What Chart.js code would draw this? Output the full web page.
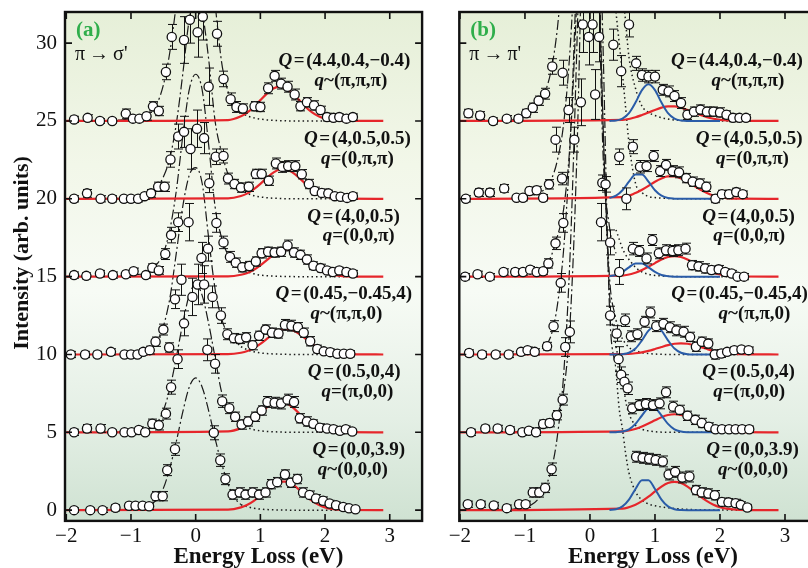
<!DOCTYPE html>
<html>
<head>
<meta charset="utf-8">
<script src="https://cdn.jsdelivr.net/npm/chart.js@4.4.1/dist/chart.umd.min.js"></script>
<style>
html, body { margin: 0; padding: 0; background: #fff; overflow: hidden; }
#wrap { position: relative; width: 808px; height: 568px; overflow: hidden; }
canvas { position: absolute; top: 0; }
#cA { left: 0; }
#cB { left: 430px; }
</style>
</head>
<body>
<div id="wrap">
  <canvas id="cA" width="430" height="568"></canvas>
  <canvas id="cB" width="400" height="568"></canvas>
</div>
<script>
// ---- spectra are stacked with these vertical offsets ----
const offsets = [0, 5, 10, 15, 20, 25];

// label texts, bottom spectrum first
const bigQ = ['(0,0,3.9)', '(0.5,0,4)', '(0.45,\u22120.45,4)', '(4,0,0.5)', '(4,0.5,0.5)', '(4.4,0.4,\u22120.4)'];
const smallQrel = ['~', '=', '~', '=', '=', '~'];
const smallQ = ['(0,0,0)', '(\u03c0,0,0)', '(\u03c0,\u03c0,0)', '(0,0,\u03c0)', '(0,\u03c0,\u03c0)', '(\u03c0,\u03c0,\u03c0)'];
const xTicks = [-2, -1, 0, 1, 2, 3];
const yTicks = [0, 5, 10, 15, 20, 25, 30];

// ---- sample grids of the drawn curves ----
const redGrid = [-2, 0.5, 0.7, 0.8, 0.9, 1.0, 1.1, 1.2, 1.3, 1.4, 1.5, 1.6, 1.7, 1.8, 1.9, 2.0, 2.1, 2.3, 2.9];
const blueGrid = [0.3, 0.4, 0.5, 0.6, 0.7, 0.8, 0.9, 1.0, 1.1, 1.2, 1.3, 1.4, 1.5, 1.7, 2.0];
const elasticGridA = [-1.2, -1.0, -0.8, -0.7, -0.6, -0.5, -0.4, -0.3, -0.2, -0.1, 0, 0.1, 0.2, 0.3, 0.4, 0.5, 0.6, 0.7];
const tailGridA = [0.7, 0.8, 0.9, 1.0, 1.1, 1.3, 1.6, 2.3];
const elasticGridB = [-1.2, -1.0, -0.9, -0.8, -0.7, -0.6, -0.5, -0.4, -0.3, -0.2, -0.1, 0, 0.1, 0.2, 0.3, 0.4];
const tailGridB = [0.4, 0.45, 0.5, 0.55, 0.6, 0.7, 0.8, 0.9, 1.0, 1.2, 1.5, 2.3];

// ---- panel (a) pi -> sigma' data (energy eV, intensity above offset, error) ----
const lossA0 = [-1.88,-1.63,-1.44,-1.24,-1.03,-0.93,-0.82,-0.72,-0.62,-0.51,-0.44,-0.32,0.28,0.38,0.46,0.57,0.68,0.77,0.88,0.98,1.08,1.17,1.26,1.38,1.47,1.57,1.66,1.76,1.86,1.97,2.07,2.17,2.28,2.37,2.47];
const intA0 = [0,0,0,0.15,0.28,0.28,0.28,0.25,0.9,0.9,2.57,3.92,4.97,3.21,1.99,1.0,1.14,1.0,1.14,1.0,1.14,1.67,1.8,2.29,1.76,2.0,1.14,0.98,0.75,0.6,0.43,0.32,0.2,0.12,0.06];
const errA0 = [0.15,0.15,0.15,0.2,0.2,0.2,0.2,0.2,0.3,0.3,0.35,0.4,0.45,0.4,0.35,0.3,0.3,0.3,0.3,0.3,0.3,0.3,0.3,0.3,0.3,0.3,0.3,0.25,0.25,0.25,0.2,0.2,0.2,0.15,0.15];

const lossA5 = [-1.88,-1.68,-1.47,-1.29,-1.1,-0.99,-0.88,-0.78,-0.67,-0.57,-0.46,-0.38,-0.28,0.18,0.3,0.41,0.52,0.61,0.71,0.81,0.92,1.02,1.11,1.22,1.32,1.42,1.52,1.61,1.72,1.82,1.92,2.03,2.13,2.23,2.32,2.42];
const intA5 = [0,0.25,0.25,0,0,0,0.15,0,0.55,0.45,1.2,2.9,4.7,5.3,4.4,2.0,1.55,1.0,0.5,0.7,1.0,1.4,1.95,1.9,1.85,2.1,1.95,0.9,0.7,0.55,0.3,0.25,0.2,0.1,0.2,0.05];
const errA5 = [0.2,0.25,0.25,0.15,0.15,0.15,0.2,0.15,0.3,0.3,0.35,0.45,0.6,0.7,0.6,0.4,0.35,0.3,0.3,0.3,0.3,0.3,0.35,0.35,0.35,0.35,0.35,0.3,0.3,0.25,0.25,0.2,0.2,0.2,0.2,0.15];

const lossA10 = [-1.93,-1.71,-1.52,-1.31,-1.1,-1.0,-0.9,-0.81,-0.71,-0.62,-0.5,-0.41,-0.32,-0.22,-0.18,-0.05,0.03,0.13,0.26,0.39,0.49,0.59,0.68,0.78,0.88,0.98,1.08,1.18,1.28,1.38,1.48,1.58,1.67,1.77,1.88,1.98,2.08,2.19,2.29,2.39];
const intA10 = [0,0,0,0.17,0,0,0,0.17,0.28,0.82,1.6,0.45,3.55,4.8,2.0,3.7,4.5,4.5,3.7,2.5,1.3,1.05,1.0,1.1,0.6,1.2,1.6,1.4,1.35,1.9,1.85,1.75,1.4,0.85,0.35,0.2,0.15,0.05,0.05,0.05];
const errA10 = [0.2,0.2,0.2,0.2,0.2,0.2,0.2,0.2,0.25,0.3,0.35,0.3,0.6,1.0,0.8,1.2,1.3,1.2,0.7,0.5,0.35,0.3,0.3,0.3,0.3,0.3,0.3,0.3,0.3,0.35,0.35,0.3,0.3,0.3,0.25,0.2,0.2,0.2,0.2,0.2];

const lossA15 = [-1.88,-1.69,-1.48,-1.28,-1.08,-0.96,-0.77,-0.67,-0.57,-0.47,-0.38,-0.27,-0.11,0.09,0.19,0.32,0.43,0.53,0.62,0.72,0.83,0.93,1.02,1.12,1.22,1.32,1.42,1.52,1.62,1.72,1.82,1.93,2.03,2.12,2.22,2.33,2.43];
const intA15 = [0.1,0.05,0.2,0.1,0.15,0.35,0.1,0.57,0.4,1.45,2.67,3.5,3.5,1.2,1.8,3.45,2.2,1.27,0.9,0.6,0.68,0.97,1.5,1.6,1.55,1.6,2.0,1.55,1.4,1.1,0.7,0.55,0.4,0.3,0.4,0.3,0.2];
const errA15 = [0.2,0.2,0.2,0.2,0.2,0.2,0.2,0.25,0.25,0.35,0.5,0.6,1.2,1.0,0.8,0.6,0.4,0.35,0.3,0.3,0.3,0.3,0.3,0.3,0.3,0.3,0.35,0.3,0.3,0.3,0.25,0.25,0.2,0.2,0.2,0.2,0.2];

const lossA20 = [-1.88,-1.68,-1.47,-1.29,-1.11,-1.0,-0.89,-0.79,-0.69,-0.58,-0.48,-0.39,-0.27,-0.18,-0.08,0.02,0.13,0.21,0.31,0.43,0.5,0.6,0.7,0.82,0.93,1.02,1.13,1.24,1.34,1.43,1.54,1.64,1.75,1.84,1.95,2.05,2.15,2.24,2.34,2.43];
const intA20 = [0,0.35,0,0,0,0,0,0.17,0.35,0.77,0.77,2.53,4.0,4.3,3.2,4.5,3.9,1.0,2.7,2.75,1.3,0.95,0.72,0.77,1.6,1.6,1.16,2.27,2.05,2.1,2.1,1.58,0.95,0.5,0.38,0.35,0.17,0.13,0.06,0.17];
const errA20 = [0.2,0.25,0.2,0.2,0.2,0.2,0.2,0.2,0.25,0.3,0.3,0.5,0.8,1.0,1.3,1.2,1.0,0.6,0.5,0.45,0.35,0.3,0.3,0.3,0.3,0.3,0.3,0.35,0.35,0.35,0.35,0.3,0.3,0.25,0.25,0.2,0.2,0.2,0.2,0.2];

const lossA25 = [-1.88,-1.67,-1.48,-1.29,-1.08,-0.97,-0.87,-0.76,-0.66,-0.57,-0.46,-0.37,-0.18,-0.09,0.03,0.11,0.2,0.33,0.43,0.54,0.63,0.73,0.91,1.0,1.12,1.22,1.32,1.42,1.53,1.62,1.72,1.83,1.93,2.03,2.13,2.22,2.33,2.43];
const intA25 = [0.1,0.2,0,0,0.47,0.15,0.15,0.3,0.94,0.64,3.15,5.4,5.2,6.5,5.7,6.7,2.2,5.6,2.7,1.4,0.9,0.8,0.95,0.9,2.1,2.9,2.4,2.2,1.7,0.95,1.2,1.0,0.7,0.25,0.2,0.25,0.15,0.25];
const errA25 = [0.2,0.2,0.15,0.15,0.3,0.2,0.2,0.25,0.3,0.3,0.5,0.8,1.5,1.5,1.6,1.5,1.2,0.8,0.5,0.4,0.35,0.3,0.3,0.3,0.35,0.35,0.35,0.35,0.35,0.3,0.3,0.3,0.25,0.25,0.2,0.2,0.2,0.2];

// panel (a) fitted curves
const redA0 = [0,0.03,0.18,0.35,0.6,0.94,1.32,1.64,1.83,1.83,1.64,1.32,0.94,0.6,0.35,0.18,0.08,0.01,0];
const redA5 = [0,0.06,0.27,0.5,0.82,1.21,1.6,1.89,2.0,1.89,1.6,1.21,0.82,0.5,0.27,0.13,0.06,0.01,0];
const redA10 = [0,0.02,0.11,0.22,0.41,0.68,1.0,1.32,1.56,1.65,1.56,1.32,1.0,0.68,0.41,0.22,0.11,0.02,0];
const redA15 = [0,0.02,0.12,0.24,0.44,0.72,1.06,1.4,1.66,1.75,1.66,1.4,1.06,0.72,0.44,0.24,0.12,0.02,0];
const redA20 = [0,0.03,0.18,0.35,0.62,0.96,1.34,1.68,1.87,1.87,1.68,1.34,0.96,0.62,0.35,0.18,0.08,0.01,0];
const redA25 = [0,0.06,0.3,0.55,0.9,1.34,1.76,2.08,2.2,2.08,1.76,1.34,0.9,0.55,0.3,0.15,0.06,0.01,0];

const elasticA0 = [0,0.05,0.15,0.35,0.7,1.4,2.7,4.4,6.3,7.9,8.5,7.9,6.4,4.6,3.0,1.7,0.8,0.35];
const elasticA5 = [0,0.05,0.1,0.3,0.6,1.4,2.8,4.8,7,8.8,9.5,8.8,7,4.8,2.6,1.5,0.9,0.5];
const elasticA10 = [0,0.05,0.15,0.3,0.8,1.8,3.6,6.5,9.5,11.5,12,11,7.5,4.2,2.3,1.3,0.9,0.5];
const elasticA15 = [0,0.1,0.2,0.4,0.8,1.5,3.0,5.5,9,12,13,12,8.5,4.5,2.5,1.4,0.9,0.55];
const elasticA20 = [0,0.05,0.2,0.35,0.7,1.4,2.6,4.8,8,11.5,13,12,9,5,3.0,1.6,0.95,0.6];
const elasticA25 = [0.05,0.15,0.35,0.6,1.1,2.3,4.4,7.5,11,13.5,14,13.5,11,7.5,3.8,1.9,1.0,0.55];

const tailA0 = [0.35,0.22,0.12,0.07,0.04,0.01,0,0];
const tailA5 = [0.5,0.3,0.17,0.1,0.06,0.02,0,0];
const tailA10 = [0.5,0.3,0.17,0.1,0.06,0.02,0,0];
const tailA15 = [0.55,0.32,0.18,0.1,0.06,0.02,0,0];
const tailA20 = [0.6,0.35,0.2,0.12,0.07,0.02,0,0];
const tailA25 = [0.55,0.32,0.2,0.12,0.07,0.02,0,0];

// ---- panel (b) pi -> pi' data ----
const lossB0 = [-1.88,-1.68,-1.48,-1.28,-1.09,-0.99,-0.88,-0.78,-0.69,-0.59,0.71,0.81,0.91,1.01,1.12,1.21,1.31,1.42,1.53,1.63,1.72,1.82,1.92,2.03,2.13,2.24,2.32,2.42];
const intB0 = [0.38,0.38,0.3,0.13,0.38,0.38,1.14,1.14,1.43,2.63,3.43,3.36,3.3,3.23,3.13,2.29,2.46,2.1,2.16,1.29,1.14,1.07,0.96,0.53,0.5,0.45,0.34,0.17];
const errB0 = [0.2,0.2,0.2,0.2,0.2,0.2,0.3,0.3,0.3,0.4,0.35,0.35,0.35,0.35,0.35,0.35,0.35,0.35,0.35,0.3,0.3,0.3,0.3,0.25,0.25,0.25,0.2,0.2];

const lossB5 = [-1.83,-1.61,-1.42,-1.23,-1.04,-0.94,-0.83,-0.72,-0.62,-0.51,-0.42,0.48,0.53,0.58,0.65,0.76,0.86,0.97,1.07,1.17,1.28,1.38,1.5,1.62,1.72,1.83,1.93,2.03,2.14,2.24,2.34,2.45];
const intB5 = [0,0.25,0.25,0.15,0,0.1,0,0.54,0.6,1.1,2.1,3.7,3.25,2.83,1.54,1.75,1.82,1.75,1.86,2.57,1.65,1.44,1.06,0.8,0.6,0.36,0.2,0.2,0.2,0.2,0.2,0.2];
const errB5 = [0.2,0.2,0.2,0.2,0.2,0.2,0.2,0.25,0.25,0.3,0.35,0.5,0.45,0.4,0.35,0.35,0.35,0.35,0.35,0.35,0.35,0.3,0.3,0.3,0.3,0.25,0.2,0.2,0.2,0.2,0.2,0.2];

const lossB10 = [-1.86,-1.66,-1.45,-1.25,-1.06,-0.96,-0.85,-0.66,-0.56,-0.38,-0.31,0.31,0.41,0.44,0.54,0.63,0.73,0.84,0.93,1.02,1.13,1.23,1.33,1.44,1.54,1.63,1.72,1.82,1.92,2.02,2.11,2.22,2.33,2.44];
const intB10 = [0.1,0,0,0,0.17,0.28,0.17,0.53,1.82,0.48,1.45,2.5,1.35,-0.3,2.2,1.17,1.3,2.1,2.7,1.82,1.97,1.75,1.55,1.46,1.13,0.5,0.82,0.7,0,0.06,0.17,0.28,0.32,0.28];
const errB10 = [0.2,0.2,0.2,0.2,0.2,0.2,0.2,0.25,0.35,0.6,0.7,0.6,0.5,0.8,0.4,0.35,0.35,0.35,0.35,0.35,0.35,0.35,0.35,0.35,0.3,0.3,0.3,0.3,0.3,0.25,0.2,0.2,0.2,0.2];

const lossB15 = [-1.92,-1.73,-1.54,-1.33,-1.15,-1.03,-0.92,-0.82,-0.72,-0.64,-0.53,-0.45,-0.41,0.17,0.31,0.45,0.66,0.76,0.87,0.96,1.06,1.17,1.27,1.36,1.47,1.57,1.67,1.77,1.87,1.98,2.08,2.18,2.27,2.37];
const intB15 = [0,0.15,0,0.3,0.3,0.3,0.45,0.3,0.35,0.85,2.14,-0.4,3.45,3.5,2.2,0.3,1.8,1.65,1.17,2.35,1.5,1.7,1.65,1.7,1.8,0.74,0.66,0.53,0.43,0.47,0.3,0.2,0,0];
const errB15 = [0.2,0.2,0.2,0.2,0.2,0.2,0.2,0.2,0.2,0.3,0.4,0.6,0.6,1.2,0.8,0.8,0.4,0.35,0.35,0.35,0.35,0.35,0.35,0.35,0.35,0.3,0.3,0.3,0.25,0.25,0.2,0.2,0.2,0.2];

const lossB20 = [-1.91,-1.71,-1.54,-1.32,-1.13,-1.03,-0.93,-0.82,-0.72,-0.63,-0.53,-0.43,-0.24,0.19,0.24,0.45,0.56,0.66,0.77,0.87,0.98,1.08,1.17,1.27,1.37,1.48,1.58,1.69,1.79,1.93,2.03,2.14,2.25,2.35];
const intB20 = [0,0.4,0.4,0.67,0.07,0.07,0.5,0.55,0.07,0.93,3.8,1.3,3.8,1.03,0.93,2.7,0,3.35,2.06,2.1,2.75,1.78,2.18,1.78,1.7,1.33,1.1,0.98,0.77,0,0.3,0.3,0.43,0.3];
const errB20 = [0.2,0.25,0.25,0.25,0.2,0.2,0.25,0.25,0.2,0.3,0.8,0.4,0.8,0.5,0.5,0.5,0.7,0.45,0.4,0.35,0.35,0.35,0.35,0.35,0.35,0.3,0.3,0.3,0.3,0.25,0.25,0.25,0.25,0.2];

const lossB25 = [-1.87,-1.69,-1.49,-1.28,-1.1,-0.98,-0.88,-0.79,-0.69,-0.58,-0.42,-0.33,-0.14,-0.11,-0.02,0.04,0.08,0.14,0.36,0.48,0.6,0.71,0.8,0.9,1.0,1.12,1.21,1.3,1.4,1.5,1.6,1.7,1.8,1.9,2.0,2.1,2.2,2.3,2.4];
const intB25 = [0.5,0.35,0,0.15,0.15,0.5,0.85,1.3,1.75,3.5,3.1,0.7,1.2,6.2,5.4,6.2,1.7,5.4,4.9,3.2,6.2,3.7,2.95,2.85,2.85,2.0,1.9,1.6,1.15,0.4,0.6,0.73,0.6,0.6,0.55,0.4,0.2,0.2,0.2];
const errB25 = [0.25,0.25,0.2,0.2,0.2,0.25,0.3,0.3,0.35,0.5,0.8,0.8,1.5,1.8,1.8,1.8,1.6,1.6,1.0,1.0,0.8,0.45,0.4,0.4,0.4,0.35,0.35,0.35,0.35,0.3,0.3,0.3,0.3,0.3,0.3,0.25,0.25,0.2,0.2];

// panel (b) fitted curves
const redB0 = [0,0.1,0.35,0.58,0.87,1.2,1.51,1.74,1.82,1.74,1.51,1.2,0.87,0.58,0.35,0.19,0.1,0.02,0];
const redB5 = [0,0.06,0.22,0.37,0.56,0.77,0.97,1.11,1.16,1.11,0.97,0.77,0.56,0.37,0.22,0.12,0.06,0.01,0];
const redB10 = [0,0.02,0.08,0.14,0.23,0.35,0.48,0.6,0.69,0.72,0.69,0.6,0.48,0.35,0.23,0.14,0.08,0.02,0];
const redB15 = [0,0.07,0.25,0.42,0.63,0.87,1.1,1.26,1.32,1.26,1.1,0.87,0.63,0.42,0.25,0.14,0.07,0.01,0];
const redB20 = [0,0.11,0.37,0.58,0.83,1.1,1.31,1.44,1.44,1.31,1.1,0.83,0.58,0.37,0.21,0.11,0.05,0.01,0];
const redB25 = [0,0.07,0.24,0.38,0.54,0.71,0.86,0.94,0.94,0.86,0.71,0.54,0.38,0.24,0.14,0.07,0.03,0.01,0];

const blueB0 = [0.01,0.06,0.24,0.68,1.36,1.92,1.92,1.36,0.68,0.24,0.06,0.01,0,0,0];
const blueB5 = [0,0.01,0.05,0.19,0.54,1.08,1.53,1.53,1.08,0.54,0.19,0.05,0.01,0,0];
const blueB10 = [0,0,0.02,0.11,0.38,0.91,1.53,1.82,1.53,0.91,0.38,0.11,0.02,0,0];
const blueB15 = [0.03,0.11,0.3,0.6,0.85,0.85,0.6,0.3,0.11,0.03,0,0,0,0,0];
const blueB20 = [0.05,0.2,0.55,1.1,1.56,1.56,1.1,0.55,0.2,0.05,0.01,0,0,0,0];
const blueB25 = [0,0.03,0.15,0.5,1.18,1.98,2.36,1.98,1.18,0.5,0.15,0.03,0,0,0];

const elasticB0 = [0.05,0.2,0.35,0.7,1.4,2.5,4.8,9,17,30,45,50,45,30,13,9];
const elasticB5 = [0,0.1,0.15,0.3,0.5,0.75,1.2,2.8,7.5,18,35,45,35,20,9,5.5];
const elasticB10 = [0,0.1,0.15,0.25,0.5,1.2,3.2,7,14,25,35,40,32,15,5,2.2];
const elasticB15 = [0,0.2,0.3,0.4,0.6,1.3,2.6,4.5,9,18,28,32,25,8,3.2,1.5];
const elasticB20 = [0,0.2,0.3,0.4,0.6,1.2,2.5,5,10,18,26,30,26,20,15,12];
const elasticB25 = [0.05,0.45,0.8,1.25,1.8,3.2,6,11,18,26,32,35,32,24,16,11];

const tailB0 = [9,6.5,5.2,3.6,2.4,1.2,0.65,0.4,0.28,0.15,0.05,0];
const tailB5 = [5.5,4.5,3.5,2.0,1.2,0.45,0.2,0.09,0.04,0,0,0];
const tailB10 = [2.2,1.6,1.0,0.7,0.45,0.25,0.12,0.06,0.03,0,0,0];
const tailB15 = [3,2.4,1.8,1.4,1.1,0.6,0.3,0.15,0.08,0.02,0,0];
const tailB20 = [12,10,8,5.8,3.6,1.0,0.4,0.15,0.08,0.02,0,0];
const tailB25 = [11,10,8.5,6.3,4.1,2.1,0.95,0.55,0.35,0.12,0.02,0];

// ---- tables built from the arrays above ----
const panelA = [
  { loss: lossA0, int: intA0, err: errA0, red: redA0, elastic: elasticA0, tail: tailA0 },
  { loss: lossA5, int: intA5, err: errA5, red: redA5, elastic: elasticA5, tail: tailA5 },
  { loss: lossA10, int: intA10, err: errA10, red: redA10, elastic: elasticA10, tail: tailA10 },
  { loss: lossA15, int: intA15, err: errA15, red: redA15, elastic: elasticA15, tail: tailA15 },
  { loss: lossA20, int: intA20, err: errA20, red: redA20, elastic: elasticA20, tail: tailA20 },
  { loss: lossA25, int: intA25, err: errA25, red: redA25, elastic: elasticA25, tail: tailA25 }
];
const panelB = [
  { loss: lossB0, int: intB0, err: errB0, red: redB0, blue: blueB0, elastic: elasticB0, tail: tailB0 },
  { loss: lossB5, int: intB5, err: errB5, red: redB5, blue: blueB5, elastic: elasticB5, tail: tailB5 },
  { loss: lossB10, int: intB10, err: errB10, red: redB10, blue: blueB10, elastic: elasticB10, tail: tailB10 },
  { loss: lossB15, int: intB15, err: errB15, red: redB15, blue: blueB15, elastic: elasticB15, tail: tailB15 },
  { loss: lossB20, int: intB20, err: errB20, red: redB20, blue: blueB20, elastic: elasticB20, tail: tailB20 },
  { loss: lossB25, int: intB25, err: errB25, red: redB25, blue: blueB25, elastic: elasticB25, tail: tailB25 }
];

// label placement (energy of text centre) per spectrum, bottom first
const labelXA = { big: [2.52, 2.45, 2.29, 2.44, 2.5, 2.3], small: [2.43, 2.5, 2.33, 2.52, 2.5, 2.4] };
const labelXB = { big: [2.5, 2.44, 2.3, 2.44, 2.45, 2.26], small: [2.51, 2.45, 2.53, 2.45, 2.5, 2.43] };

const SERIF = '"Liberation Serif", "DejaVu Serif", serif';
const RED = '#e6262b';
const BLUE = '#2a5ca8';
const GREEN = '#2fae4b';

function curve(grid, vals, off) {
  return vals.map((v, i) => ({ x: grid[i], y: v + off }));
}

function minusFmt(v) {
  return v < 0 ? '\u2212' + Math.abs(v) : String(v);
}

function drawMixed(ctx, parts, cx, cy, size) {
  let w = 0;
  parts.forEach(p => {
    ctx.font = (p[1] ? 'italic ' : '') + 'bold ' + size + 'px ' + SERIF;
    w += ctx.measureText(p[0]).width;
  });
  let x = cx - w / 2;
  parts.forEach(p => {
    ctx.font = (p[1] ? 'italic ' : '') + 'bold ' + size + 'px ' + SERIF;
    ctx.fillText(p[0], x, cy);
    x += ctx.measureText(p[0]).width;
  });
}

// background, error bars, frame, inward ticks and texts
const decor = {
  id: 'decor',
  beforeDraw(chart) {
    const { ctx, chartArea: a } = chart;
    const g = ctx.createLinearGradient(0, a.top, 0, a.bottom);
    g.addColorStop(0, '#e6efd8');
    g.addColorStop(0.3, '#f2f7e9');
    g.addColorStop(0.55, '#f7fbf5');
    g.addColorStop(0.8, '#e4efe5');
    g.addColorStop(1, '#cfe2d2');
    ctx.save();
    ctx.fillStyle = g;
    ctx.fillRect(a.left, a.top, a.right - a.left, a.bottom - a.top);
    ctx.restore();
  },
  beforeDatasetDraw(chart, args) {
    const ds = chart.data.datasets[args.index];
    if (!ds.err) return;
    const { ctx, chartArea: a } = chart;
    const xs = chart.scales.x, ys = chart.scales.y;
    ctx.save();
    ctx.beginPath();
    ctx.rect(a.left, a.top, a.right - a.left, a.bottom - a.top);
    ctx.clip();
    ctx.strokeStyle = '#111';
    ctx.lineWidth = 1;
    ds.data.forEach((p, i) => {
      const e = ds.err[i];
      const px = Math.round(xs.getPixelForValue(p.x)) + 0.5;
      const y1 = ys.getPixelForValue(p.y + e);
      const y2 = ys.getPixelForValue(p.y - e);
      ctx.beginPath();
      ctx.moveTo(px, y1); ctx.lineTo(px, y2);
      ctx.moveTo(px - 4.5, y1); ctx.lineTo(px + 4.5, y1);
      ctx.moveTo(px - 4.5, y2); ctx.lineTo(px + 4.5, y2);
      ctx.stroke();
    });
    ctx.restore();
  },
  afterDraw(chart) {
    const { ctx, chartArea: a } = chart;
    const xs = chart.scales.x, ys = chart.scales.y;
    const o = chart.options.plugins.decor;
    ctx.save();
    // inward ticks
    ctx.strokeStyle = '#111';
    ctx.lineWidth = 1.6;
    ctx.beginPath();
    xTicks.forEach(v => {
      const px = xs.getPixelForValue(v);
      ctx.moveTo(px, a.bottom); ctx.lineTo(px, a.bottom - 7);
      ctx.moveTo(px, a.top); ctx.lineTo(px, a.top + 7);
    });
    yTicks.forEach(v => {
      const py = ys.getPixelForValue(v);
      ctx.moveTo(a.left, py); ctx.lineTo(a.left + 7, py);
      ctx.moveTo(a.right, py); ctx.lineTo(a.right - 7, py);
    });
    ctx.stroke();
    // frame
    ctx.lineWidth = 2.4;
    ctx.strokeRect(a.left, a.top, a.right - a.left, a.bottom - a.top);

    // tick labels
    ctx.fillStyle = '#111';
    ctx.font = '21px ' + SERIF;
    ctx.textBaseline = 'middle';
    ctx.textAlign = 'center';
    xTicks.forEach(v => ctx.fillText(minusFmt(v), xs.getPixelForValue(v), a.bottom + 16));
    if (o.yLabels) {
      ctx.textAlign = 'right';
      yTicks.forEach(v => ctx.fillText(String(v), a.left - 8, ys.getPixelForValue(v)));
    }

    // panel letter and polarisation channel
    ctx.textAlign = 'left';
    ctx.fillStyle = GREEN;
    ctx.font = 'bold 21px ' + SERIF;
    ctx.fillText(o.letter, a.left + 11, 31);
    ctx.fillStyle = '#111';
    ctx.font = '20px ' + SERIF;
    ctx.fillText(o.channel, a.left + 10, 55);

    // Q / q labels
    offsets.forEach((off, k) => {
      drawMixed(ctx, [['Q', true], ['\u200a=\u200a' + bigQ[k], false]],
        xs.getPixelForValue(o.labelX.big[k]), ys.getPixelForValue(off + 3.85), 19);
      drawMixed(ctx, [['q', true], [smallQrel[k] + smallQ[k], false]],
        xs.getPixelForValue(o.labelX.small[k]), ys.getPixelForValue(off + 2.58), 19);
    });

    // axis titles
    ctx.textAlign = 'center';
    ctx.textBaseline = 'alphabetic';
    ctx.font = 'bold 23px ' + SERIF;
    ctx.fillText('Energy Loss (eV)', xs.getPixelForValue(0.97), 563);
    if (o.yTitle) {
      ctx.translate(22, 253);
      ctx.rotate(-Math.PI / 2);
      ctx.textBaseline = 'middle';
      ctx.font = 'bold 22px ' + SERIF;
      ctx.fillText('Intensity (arb. units)', 0, 0);
    }
    ctx.restore();
  }
};

function buildDatasets(panel, elasticGrid, tailGrid) {
  const sets = [];
  panel.forEach((s, k) => {
    const off = offsets[k];
    sets.push({
      data: curve(elasticGrid, s.elastic, off), borderColor: '#1a1a1a', borderWidth: 1.2,
      borderDash: [10, 3, 2, 3], pointRadius: 0, cubicInterpolationMode: 'monotone', order: 4
    });
    sets.push({
      data: curve(tailGrid, s.tail, off), borderColor: '#1a1a1a', borderWidth: 1.5,
      borderDash: [1.5, 3], pointRadius: 0, cubicInterpolationMode: 'monotone', order: 3
    });
    sets.push({
      data: curve(redGrid, s.red, off), borderColor: RED, borderWidth: 2.2,
      pointRadius: 0, cubicInterpolationMode: 'monotone', order: 2
    });
    if (s.blue) {
      sets.push({
        data: curve(blueGrid, s.blue, off), borderColor: BLUE, borderWidth: 2,
        pointRadius: 0, cubicInterpolationMode: 'monotone', order: 1
      });
    }
    sets.push({
      data: s.loss.map((x, i) => ({ x: x, y: s.int[i] + off })), err: s.err,
      showLine: false, pointRadius: 4.6, pointBorderWidth: 1.3,
      pointBackgroundColor: '#fff', pointBorderColor: '#111', order: 0
    });
  });
  return sets;
}

function makeChart(id, panel, cfg) {
  return new Chart(document.getElementById(id), {
    type: 'line',
    data: { datasets: buildDatasets(panel, cfg.elasticGrid, cfg.tailGrid) },
    plugins: [decor],
    options: {
      responsive: false,
      animation: false,
      events: [],
      layout: { padding: { top: 12, right: cfg.padRight, left: 0, bottom: 0 } },
      plugins: {
        legend: { display: false },
        tooltip: { enabled: false },
        decor: { letter: cfg.letter, channel: cfg.channel, labelX: cfg.labelX, yTitle: cfg.yTitle, yLabels: cfg.yLabels }
      },
      scales: {
        x: {
          type: 'linear', min: cfg.xMin, max: 3.5,
          grid: { display: false, drawTicks: false }, border: { display: false },
          ticks: { display: false, stepSize: 1 },
          afterFit: s => { s.height = 47.1; }
        },
        y: {
          type: 'linear', min: -0.69, max: 32,
          grid: { display: false, drawTicks: false }, border: { display: false },
          ticks: { display: false, stepSize: 5 },
          afterFit: s => { s.width = cfg.yWidth; }
        }
      }
    }
  });
}

makeChart('cA', panelA, {
  elasticGrid: elasticGridA, tailGrid: tailGridA, xMin: -2.02, padRight: 7.9, yWidth: 65,
  yLabels: true, yTitle: true, letter: '(a)', channel: '\u03c0\u2009\u2192\u2009\u03c3\'', labelX: labelXA
});
makeChart('cB', panelB, {
  elasticGrid: elasticGridB, tailGrid: tailGridB, xMin: -2.01, padRight: 12.5, yWidth: 29.3,
  yLabels: false, yTitle: false, letter: '(b)', channel: '\u03c0\u2009\u2192\u2009\u03c0\'', labelX: labelXB
});
</script>
</body>
</html>
